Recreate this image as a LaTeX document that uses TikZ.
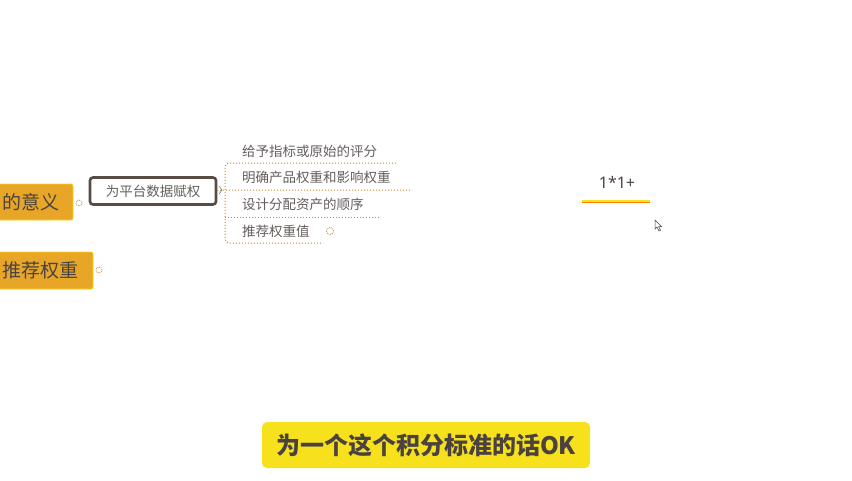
\documentclass[tikz,border=0pt]{standalone}
\usepackage{fontspec}
\setmainfont{Noto Sans CJK SC}
\newfontfamily\cjk{Noto Sans CJK SC}
\definecolor{txt}{HTML}{4A4240}
\definecolor{orangebox}{HTML}{E8A628}
\definecolor{yellowsub}{HTML}{F7E11C}
\definecolor{dotc}{HTML}{C08A30}
\definecolor{framec}{HTML}{5A4C44}
\tikzset{
  px/.style={x=1pt,y=-1pt},
  topicbox/.style={fill=orangebox,draw=yellow!70!orange,line width=0.8pt,rounded corners=2pt},
  topictxt/.style={text=txt,font=\cjk\fontsize{19}{22}\selectfont,anchor=east,inner sep=0pt},
  smalltxt/.style={text=txt!85,font=\cjk\fontsize{13.5}{15}\selectfont,anchor=west,inner sep=0pt},
  dotline/.style={draw=dotc,dotted,line width=1pt},
  collapse/.style={circle,draw=dotc,densely dotted,line width=0.8pt,minimum size=6pt,inner sep=0pt},
}
\begin{document}
\begin{tikzpicture}[px]
\useasboundingbox[fill=white] (0,0) rectangle (852,480);
% left orange topics
\path[topicbox] (-5,184) rectangle (73,220);
\node[topictxt] (yiyi) at (60,202) {的意义};
\path[topicbox] (-5,252) rectangle (93,289);
\node[topictxt] (tuijian) at (79,270) {推荐权重};
\node[collapse] (c1) at (79,203) {};
\node[collapse] (c2) at (99,270) {};
% central framed box
\node[draw=framec,line width=2.6pt,rounded corners=3pt,fill=white,minimum width=126pt,minimum height=27pt,text=txt!85,font=\cjk\fontsize{13.5}{15}\selectfont] (box) at (153,191) {为平台数据赋权};
% children texts
\node[smalltxt] (t1) at (242,151) {给予指标或原始的评分};
\node[smalltxt] (t2) at (242,177) {明确产品权重和影响权重};
\node[smalltxt] (t3) at (242,204) {设计分配资产的顺序};
\node[smalltxt] (t4) at (242,231) {推荐权重值};
\node[collapse,minimum size=7pt] (c3) at (330,231) {};
% branch connectors
\coordinate (b0) at (box.east);
\coordinate (u1) at (396,163);
\coordinate (u2) at (410,190);
\coordinate (u3) at (380,217);
\coordinate (u4) at (323,243);
\draw[dotline] (b0) -- (223,190) -- (u2);
\draw[dotline,rounded corners=4pt] (u1) -- (225,163) -- (225,243) -- (u4);
\draw[dotline] (225,217) -- (u3);
\draw[draw=txt!70,line width=0.6pt] (219,186) -- (222,190) -- (219,194);
% 1*1+
\node[text=txt,font=\fontspec{Noto Sans}\fontsize{16}{19}\selectfont] (formula) at (617,182) {1*1+};
\fill[yellowsub] (582,199.5) rectangle (650,202.5);
\draw[orange,line width=0.4pt] (582,202.5) -- (650,202.5);
% mouse cursor
\draw[fill=white,draw=txt,line width=0.5pt] (655,220) -- (655,229) -- (657,227) -- (659,231) -- (660.5,230.3) -- (658.6,226.5) -- (661.5,226.5) -- cycle;
% subtitle
\node[fill=yellowsub,rounded corners=5pt,minimum width=328pt,minimum height=46pt,inner sep=0pt,text=txt,font=\cjk\bfseries\fontsize{24}{27}\selectfont] (sub) at (426,445) {为一个这个积分标准的话OK};
\end{tikzpicture}
\end{document}
